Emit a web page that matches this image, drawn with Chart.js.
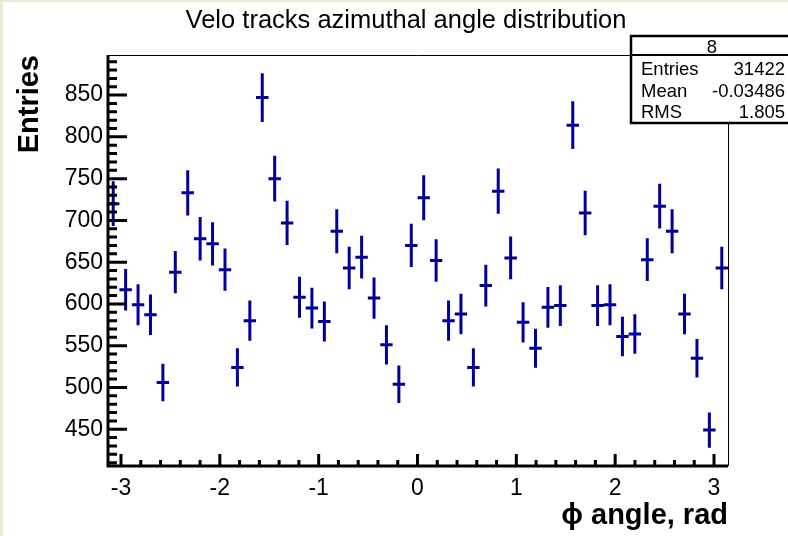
<!DOCTYPE html>
<html>
<head>
<meta charset="utf-8">
<title>Velo tracks azimuthal angle distribution</title>
<script src="https://cdn.jsdelivr.net/npm/chart.js@4/dist/chart.umd.min.js"></script>
<style>
  html, body { margin: 0; padding: 0; background: #fff; }
  #wrap { width: 788px; height: 536px; position: relative; }
</style>
</head>
<body>
<div id="wrap"><canvas id="myChart"></canvas></div>
<script>
// Velo tracks phi histogram, 50 bins from -pi to pi, with sqrt(N) error bars

const phiMin = -Math.PI;
const phiMax = Math.PI;
const entries = [
  720, 617, 599, 587, 506, 638, 733, 678, 672, 641,
  524, 580, 847, 750, 697, 608, 595, 579, 687, 643,
  656, 607, 551, 504, 670, 727, 652, 580, 588, 524,
  622, 735, 655, 578, 547, 596, 598, 814, 709, 598,
  599, 561, 564, 653, 717, 687, 588, 535, 449, 643,
];
const xTickLabels = [-3, -2, -1, 0, 1, 2, 3];
const yTickLabels = [450, 500, 550, 600, 650, 700, 750, 800, 850];
const xMinorStep = 0.2;
const yMinorStep = 10;
const histName = "8";
const statsLabels = ["Entries", "Mean", "RMS"];
const statsValues = ["31422", "-0.03486", "1.805"];

const fontFamily = "'Liberation Sans', Arial, Helvetica, sans-serif";
const markerColor = "#000099";

const binWidth = (phiMax - phiMin) / entries.length;
const points = entries.map((n, i) => ({ x: phiMin + (i + 0.5) * binWidth, y: n }));

Chart.defaults.font.family = fontFamily;
Chart.defaults.color = "#000";

const rootStyle = {
  id: "rootStyle",
  beforeDraw(chart) {
    const { ctx, width, height } = chart;
    ctx.save();
    ctx.fillStyle = "#fff";
    ctx.fillRect(0, 0, width, height);
    ctx.fillStyle = "#e6ecd6";
    ctx.fillRect(0, 0, 3, height);
    ctx.fillRect(0, 0, width, 2);
    ctx.restore();
  },
  afterDatasetsDraw(chart) {
    // error crosses: full bin width, +- sqrt(N)
    const { ctx, scales: { x, y } } = chart;
    ctx.save();
    ctx.strokeStyle = markerColor;
    ctx.lineWidth = 3;
    ctx.beginPath();
    points.forEach((p) => {
      const err = Math.sqrt(p.y);
      const px = x.getPixelForValue(p.x);
      const py = y.getPixelForValue(p.y);
      ctx.moveTo(x.getPixelForValue(p.x - binWidth / 2), py);
      ctx.lineTo(x.getPixelForValue(p.x + binWidth / 2), py);
      ctx.moveTo(px, y.getPixelForValue(p.y + err));
      ctx.lineTo(px, y.getPixelForValue(p.y - err));
    });
    ctx.stroke();
    ctx.restore();
  },
  afterDraw(chart) {
    const { ctx, chartArea: a, scales: { x, y } } = chart;
    ctx.save();

    // thin frame top / right
    ctx.strokeStyle = "#000";
    ctx.lineWidth = 1;
    ctx.beginPath();
    ctx.moveTo(a.left, a.top + 0.5);
    ctx.lineTo(a.right + 0.5, a.top + 0.5);
    ctx.lineTo(a.right + 0.5, a.bottom);
    ctx.stroke();

    // thick axes + ticks pointing inside
    ctx.lineWidth = 3;
    ctx.beginPath();
    ctx.moveTo(a.left + 1, a.top);
    ctx.lineTo(a.left + 1, a.bottom + 1.5);
    ctx.moveTo(a.left - 0.5, a.bottom);
    ctx.lineTo(a.right, a.bottom);

    const yFirst = Math.ceil(y.min / yMinorStep);
    const yLast = Math.floor(y.max / yMinorStep);
    for (let k = yFirst; k <= yLast; k++) {
      const v = k * yMinorStep;
      const py = y.getPixelForValue(v);
      const len = yTickLabels.includes(v) ? 20 : 10;
      ctx.moveTo(a.left, py);
      ctx.lineTo(a.left + len, py);
    }
    const xFirst = Math.ceil(x.min / xMinorStep);
    const xLast = Math.floor(x.max / xMinorStep);
    for (let k = xFirst; k <= xLast; k++) {
      const v = Math.round(k * xMinorStep * 10) / 10;
      const px = x.getPixelForValue(v);
      const len = xTickLabels.includes(v) ? 12 : 6;
      ctx.moveTo(px, a.bottom);
      ctx.lineTo(px, a.bottom - len);
    }
    ctx.stroke();

    // title
    ctx.fillStyle = "#000";
    ctx.font = "25.5px " + fontFamily;
    ctx.textAlign = "center";
    ctx.textBaseline = "alphabetic";
    ctx.fillText("Velo tracks azimuthal angle distribution", 406, 27.5);

    // stats box
    const bx = 631, by = 36, bw = 162, bh = 87;
    ctx.fillStyle = "#fff";
    ctx.fillRect(bx, by, bw, bh);
    ctx.lineWidth = 2.5;
    ctx.strokeRect(bx, by, bw, bh);
    ctx.lineWidth = 2;
    ctx.beginPath();
    ctx.moveTo(bx, by + 19);
    ctx.lineTo(bx + bw, by + 19);
    ctx.stroke();
    ctx.fillStyle = "#000";
    ctx.font = "18.5px " + fontFamily;
    ctx.textAlign = "center";
    ctx.fillText(histName, bx + bw / 2, by + 17);
    statsLabels.forEach((label, i) => {
      const base = 75 + i * 21.7;
      ctx.textAlign = "left";
      ctx.fillText(label, 641, base);
      ctx.textAlign = "right";
      ctx.fillText(statsValues[i], 785, base);
    });
    ctx.restore();
  },
};

const ctx = document.querySelector("#myChart");

const config = {
  type: "scatter",
  data: {
    datasets: [
      {
        label: histName,
        data: points,
        pointRadius: 0,
        borderColor: markerColor,
        backgroundColor: markerColor,
        showLine: false,
      },
    ],
  },
  options: {
    responsive: true,
    maintainAspectRatio: false,
    animation: false,
    layout: { padding: { left: 3, top: 55, right: 60, bottom: 0 } },
    plugins: {
      legend: { display: false },
      tooltip: { enabled: false },
      title: { display: false },
    },
    scales: {
      x: {
        type: "linear",
        position: "bottom",
        min: phiMin,
        max: phiMax,
        afterBuildTicks: (scale) => {
          scale.ticks = xTickLabels.map((v) => ({ value: v }));
        },
        afterFit: (scale) => {
          scale.height = 70;
        },
        grid: { display: false, drawTicks: false },
        border: { display: false },
        ticks: {
          autoSkip: false,
          maxRotation: 0,
          padding: 9,
          color: "#000",
          font: { size: 23 },
        },
        title: {
          display: true,
          text: "\u03d5 angle, rad",
          align: "end",
          color: "#000",
          font: { size: 29, weight: "bold" },
          padding: { top: 0, bottom: 3 },
        },
      },
      y: {
        min: 406,
        max: 898,
        afterBuildTicks: (scale) => {
          scale.ticks = yTickLabels.map((v) => ({ value: v }));
        },
        afterFit: (scale) => {
          scale.width = 104;
        },
        grid: { display: false, drawTicks: false },
        border: { display: false },
        ticks: {
          autoSkip: false,
          padding: 4,
          color: "#000",
          font: { size: 23 },
        },
        title: {
          display: true,
          text: "Entries",
          align: "end",
          color: "#000",
          font: { size: 29, weight: "bold" },
          padding: { top: 10, bottom: 0 },
        },
      },
    },
  },
  plugins: [rootStyle],
};

const chart = new Chart(ctx, config);
</script>
</body>
</html>
